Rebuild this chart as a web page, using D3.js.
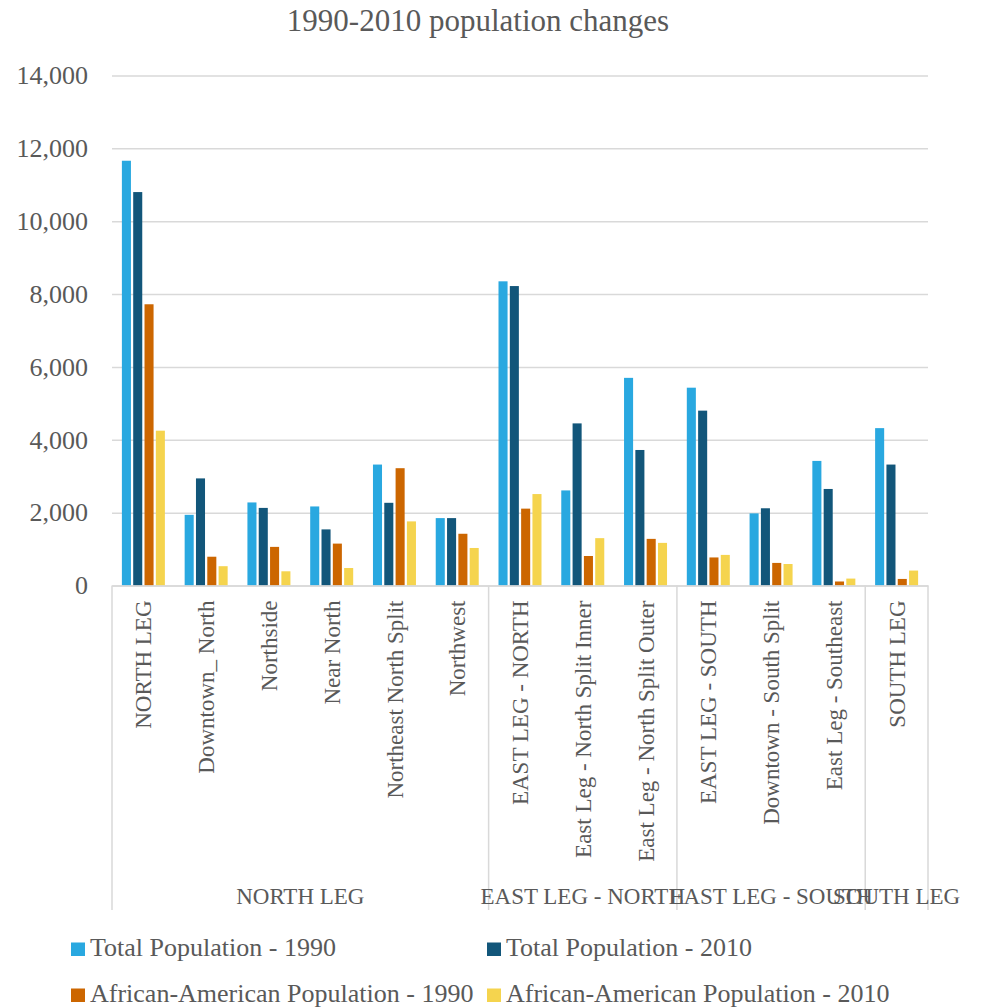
<!DOCTYPE html>
<html>
<head>
<meta charset="utf-8">
<script src="https://cdn.jsdelivr.net/npm/d3@7"></script>
<style>
  body { margin: 0; background: #fff; }
  text { font-family: "Liberation Serif", "Times New Roman", serif; fill: #595959; }
</style>
</head>
<body>
<div id="chart"></div>
<script>
const categories = ["NORTH LEG", "Downtown_ North", "Northside", "Near North", "Northeast North Split", "Northwest",
  "EAST LEG - NORTH", "East Leg - North Split Inner", "East Leg - North Split Outer",
  "EAST LEG - SOUTH", "Downtown - South Split", "East Leg - Southeast", "SOUTH LEG"];
const groupNames = ["NORTH LEG", "EAST LEG - NORTH", "EAST LEG - SOUTH", "SOUTH LEG"];
const groupSizes = [6, 3, 3, 1];
const seriesNames = ["Total Population - 1990", "Total Population - 2010",
  "African-American Population - 1990", "African-American Population - 2010"];
const total1990 = [11660, 1940, 2280, 2170, 3320, 1850, 8350, 2610, 5700, 5430, 1980, 3420, 4320];
const total2010 = [10800, 2940, 2130, 1540, 2270, 1850, 8220, 4450, 3720, 4800, 2120, 2650, 3320];
const aa1990 = [7720, 790, 1060, 1150, 3220, 1420, 2110, 810, 1280, 770, 620, 110, 180];
const aa2010 = [4250, 530, 390, 480, 1760, 1030, 2510, 1300, 1170, 840, 590, 190, 410];
const yTicks = [0, 2000, 4000, 6000, 8000, 10000, 12000, 14000];
const colors = ["#29a8e0", "#12567a", "#cc6600", "#f5d44e"];

const kWidth = 982, kHeight = 1008;
const kLeft = 112, kRight = 928, kTop = 75.5, kBase = 585.5;

const svg = d3.select("#chart").append("svg")
  .attr("width", kWidth).attr("height", kHeight);

svg.append("text")
  .attr("x", 478).attr("y", 31)
  .attr("text-anchor", "middle")
  .style("font-size", "31px")
  .text("1990-2010 population changes");

const y = d3.scaleLinear().domain([0, 14000]).range([kBase, kTop]);
const x0 = d3.scaleBand().domain(categories).range([kLeft, kRight])
  .paddingInner(0.315).paddingOuter(0.1575);
const x1 = d3.scaleBand().domain(seriesNames).range([0, x0.bandwidth()]).paddingInner(0.2);

// gridlines + y labels
const yAxis = svg.append("g")
  .attr("transform", `translate(${kLeft},0)`)
  .call(d3.axisLeft(y).tickValues(yTicks).tickFormat(d3.format(","))
    .tickSizeInner(-(kRight - kLeft)).tickSizeOuter(0).tickPadding(24));
yAxis.select(".domain").remove();
yAxis.selectAll("line").attr("stroke", "#d9d9d9").attr("stroke-width", 1.5);
yAxis.selectAll("text").style("font-size", "26px").attr("fill", "#595959");

// bars
const series = [total1990, total2010, aa1990, aa2010];
series.forEach((vals, si) => {
  svg.append("g").selectAll("rect")
    .data(vals)
    .enter()
    .append("rect")
    .attr("x", (d, i) => x0(categories[i]) + x1(seriesNames[si]))
    .attr("y", d => y(d))
    .attr("width", x1.bandwidth())
    .attr("height", d => y(0) - y(d))
    .attr("fill", colors[si]);
});

// category axis
const xAxis = svg.append("g")
  .attr("transform", `translate(0,${kBase})`)
  .call(d3.axisBottom(x0).tickSize(0));
xAxis.select(".domain").attr("stroke", "#d9d9d9").attr("stroke-width", 1.5);
xAxis.selectAll("text")
  .attr("transform", "rotate(-90)")
  .attr("text-anchor", "end")
  .attr("x", -15).attr("y", 0).attr("dy", "0.35em")
  .attr("fill", "#595959")
  .style("font-size", "23px");

// group separators and labels
const half = (x0.step() - x0.bandwidth()) / 2;
let idx = 0;
const bounds = [kLeft];
groupSizes.forEach(n => {
  idx += n;
  bounds.push(idx < categories.length ? x0(categories[idx]) - half : kRight);
});
svg.append("g").selectAll("line")
  .data(bounds)
  .enter()
  .append("line")
  .attr("x1", d => d).attr("x2", d => d)
  .attr("y1", kBase).attr("y2", 910)
  .attr("stroke", "#d9d9d9").attr("stroke-width", 1.5);
svg.append("g").selectAll("text")
  .data(groupNames)
  .enter()
  .append("text")
  .attr("x", (d, i) => (bounds[i] + bounds[i + 1]) / 2)
  .attr("y", 904)
  .attr("text-anchor", "middle")
  .style("font-size", "23px")
  .text(d => d);

// legend
const legendPos = [[71, 956], [487, 956], [71, 1002], [487, 1002]];
const legend = svg.append("g").selectAll("g")
  .data(seriesNames)
  .enter()
  .append("g")
  .attr("transform", (d, i) => `translate(${legendPos[i][0]},${legendPos[i][1]})`);
legend.append("rect")
  .attr("x", 0).attr("y", -13.5).attr("width", 14).attr("height", 13.5)
  .attr("fill", (d, i) => colors[i]);
legend.append("text")
  .attr("x", 19).attr("y", 0)
  .style("font-size", "26px")
  .text(d => d);
</script>
</body>
</html>
